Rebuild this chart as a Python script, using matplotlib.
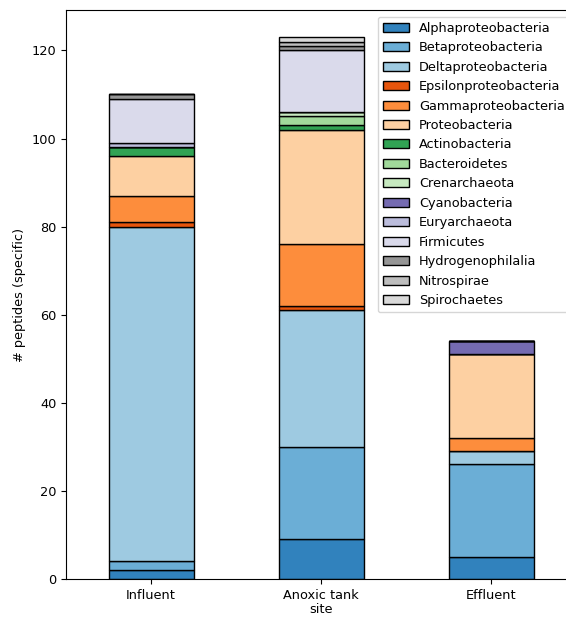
import numpy as np
import matplotlib
matplotlib.use("Agg")
import matplotlib.pyplot as plt

plt.rcParams["font.size"] = 9.3

# sites on the x axis
sites = ["Influent", "Anoxic tank", "Effluent"]

# peptide counts per taxon (Influent, Anoxic tank, Effluent)
taxa = ["Alphaproteobacteria", "Betaproteobacteria", "Deltaproteobacteria",
        "Epsilonproteobacteria", "Gammaproteobacteria", "Proteobacteria",
        "Actinobacteria", "Bacteroidetes", "Crenarchaeota", "Cyanobacteria",
        "Euryarchaeota", "Firmicutes", "Hydrogenophilalia", "Nitrospirae",
        "Spirochaetes"]
alpha = [2, 9, 5]
beta = [2, 21, 21]
delta = [76, 31, 3]
epsilon = [1, 1, 0]
gamma = [6, 14, 3]
proteo = [9, 26, 19]
actino = [2, 1, 0]
bactero = [0, 2, 0]
crenarch = [0, 1, 0]
cyano = [0, 0, 3]
euryarch = [1, 0, 0]
firmic = [10, 14, 0]
hydrogeno = [1, 1, 0]
nitro = [0, 1, 0]
spiro = [0, 1, 0]

counts = [alpha, beta, delta, epsilon, gamma, proteo, actino, bactero,
          crenarch, cyano, euryarch, firmic, hydrogeno, nitro, spiro]

# same colours pandas picks from tab20c for 15 columns
cmap = plt.get_cmap("tab20c")
colors = [cmap(v) for v in np.linspace(0, 1, len(taxa))]

fig = plt.figure(figsize=(5.66, 6.17), dpi=100)
ax = fig.add_axes([0.1166, 0.0616, 0.902, 0.922])

x = np.arange(len(sites))
bottom = np.zeros(len(sites))
for name, vals, col in zip(taxa, counts, colors):
    vals = np.array(vals, dtype=float)
    ax.bar(x, vals, width=0.5, bottom=bottom, color=col, edgecolor="black",
           linewidth=1, label=name)
    bottom += vals

ax.set_xlim(-0.5, 2.5)
ax.set_ylim(0, bottom.max() * 1.05)
ax.set_xticks(x)
ax.set_xticklabels(sites, rotation=0)
ax.set_xlabel("site", labelpad=1)
ax.set_ylabel("# peptides (specific)")
ax.legend(loc="upper right")

fig.savefig("out.png", dpi=100)
